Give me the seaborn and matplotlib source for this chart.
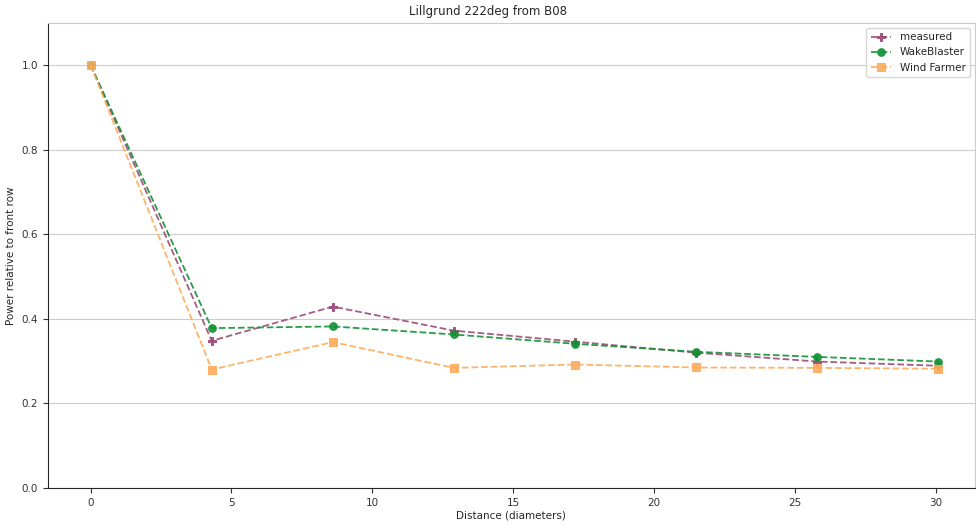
import numpy as np
import pandas as pd
import matplotlib.pyplot as plt
import seaborn as sns

distance = [0, 4.3, 8.6, 12.9, 17.2, 21.5, 25.8, 30.1]
measured = [1.0, 0.348, 0.429, 0.372, 0.346, 0.320, 0.299, 0.289]
wakeblaster = [1.0, 0.378, 0.382, 0.363, 0.341, 0.322, 0.310, 0.299]
windfarmer = [1.0, 0.280, 0.345, 0.284, 0.292, 0.285, 0.284, 0.282]

sns.set_style("ticks")
plt.rcParams['font.family'] = ['DejaVu Sans']

fig = plt.figure(figsize=(9.76, 5.25), dpi=100)
ax = fig.add_axes([0.049, 0.0705, 0.95, 0.886])

# series: name, values, colour, marker
series = [
    ("measured", measured, "#9c4a78", "P"),
    ("WakeBlaster", wakeblaster, "#119135", "o"),
    ("Wind Farmer", windfarmer, "#fdac5c", "s"),
]
for name, vals, col, mk in series:
    sns.lineplot(x=distance, y=vals, ax=ax, color=col, marker=mk, markersize=5.5,
                 markeredgecolor=col, linestyle="--", linewidth=1.3,
                 alpha=0.9, label=name)

ax.set_xlim(-1.52, 31.4)
ax.set_ylim(0, 1.1)
ax.set_yticks([0.0, 0.2, 0.4, 0.6, 0.8, 1.0])
ax.yaxis.grid(True, color="#cccccc", linewidth=0.8)
ax.tick_params(labelsize=7.5, colors="#333333")
ax.set_xlabel("Distance (diameters)", fontsize=7.5, labelpad=2)
ax.set_ylabel("Power relative to front row", fontsize=7.5)
ax.set_title("Lillgrund 222deg from B08", fontsize=8.5, pad=6, x=0.475)
for s in ["top", "right"]:
    ax.spines[s].set_color("#cccccc")
ax.legend(loc="upper right", fontsize=7.5, frameon=True, handlelength=2)

fig.savefig("out.png", dpi=100)
